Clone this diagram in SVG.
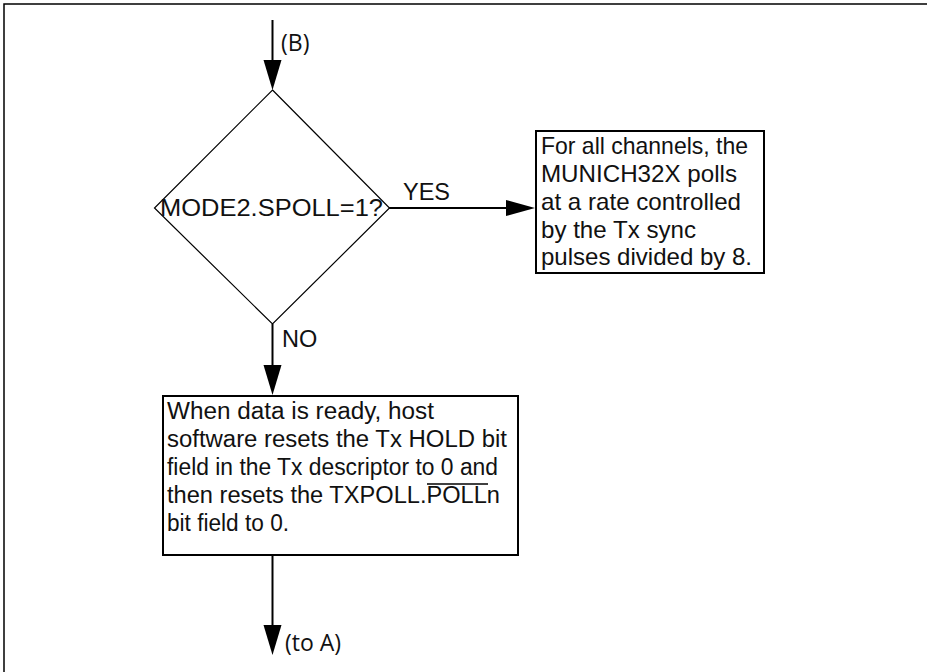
<svg xmlns="http://www.w3.org/2000/svg" width="927" height="672" viewBox="0 0 927 672">
<defs>
<style>
text{font-family:"Liberation Sans",Arial,sans-serif;font-size:23.5px;fill:#111}
.lbl{font-family:"Open Sans","DejaVu Sans",sans-serif;font-size:23px}
.fit{font-size:24px}
.box{fill:#fff;stroke:#000;stroke-width:2}
.ln{stroke:#000;stroke-width:2;fill:none}
</style>
</defs>
<rect x="0" y="0" width="927" height="672" fill="#fff"/>
<rect x="4" y="4" width="940" height="700" fill="none" stroke="#000" stroke-width="1.5"/>
<g id="connectors">
<line class="ln" x1="272.5" y1="20" x2="272.5" y2="60"/>
<path d="M263.5,60 L281.5,60 L272.5,90 Z"/>
<line class="ln" x1="389" y1="208" x2="506" y2="208"/>
<path d="M506,200 L506,216 L535,208 Z"/>
<line class="ln" x1="272.5" y1="324" x2="272.5" y2="365"/>
<path d="M263.5,365 L281.5,365 L272.5,395 Z"/>
<line class="ln" x1="272.5" y1="555" x2="272.5" y2="625"/>
<path d="M263.5,625 L281.5,625 L272.5,655 Z"/>
<text class="lbl" x="281" y="51">(B)</text>
<text x="403" y="200">YES</text>
<text x="282" y="347">NO</text>
<text class="lbl" x="285" y="651">(to A)</text>
</g>
<g id="decision">
<polygon points="272.5,90 389.5,208 272.5,324 154.5,208" fill="#fff" stroke="#000" stroke-width="1.2"/>
<text x="160" y="216" textLength="223" lengthAdjust="spacingAndGlyphs">MODE2.SPOLL=1?</text>
</g>
<g id="poll-box">
<rect class="box" x="536" y="131" width="228" height="142"/>
<text class="fit" x="541" y="154" textLength="207" lengthAdjust="spacingAndGlyphs">For all channels, the</text>
<text class="fit" x="541" y="182" textLength="196" lengthAdjust="spacingAndGlyphs">MUNICH32X polls</text>
<text class="fit" x="541" y="210" textLength="200" lengthAdjust="spacingAndGlyphs">at a rate controlled</text>
<text class="fit" x="541" y="238" textLength="155" lengthAdjust="spacingAndGlyphs">by the Tx sync</text>
<text class="fit" x="541" y="265" textLength="211" lengthAdjust="spacingAndGlyphs">pulses divided by 8.</text>
</g>
<g id="host-box">
<rect class="box" x="163" y="396" width="355" height="159"/>
<text x="167" y="419" textLength="267" lengthAdjust="spacingAndGlyphs">When data is ready, host</text>
<text x="167" y="447" textLength="340" lengthAdjust="spacingAndGlyphs">software resets the Tx HOLD bit</text>
<text x="167" y="475" textLength="331" lengthAdjust="spacingAndGlyphs">field in the Tx descriptor to 0 and</text>
<text x="167" y="503" textLength="333" lengthAdjust="spacingAndGlyphs">then resets the TXPOLL.POLLn</text>
<text x="167" y="531" textLength="122" lengthAdjust="spacingAndGlyphs">bit field to 0.</text>
<line x1="427" y1="484" x2="488" y2="484" stroke="#000" stroke-width="1.5"/>
</g>
</svg>
